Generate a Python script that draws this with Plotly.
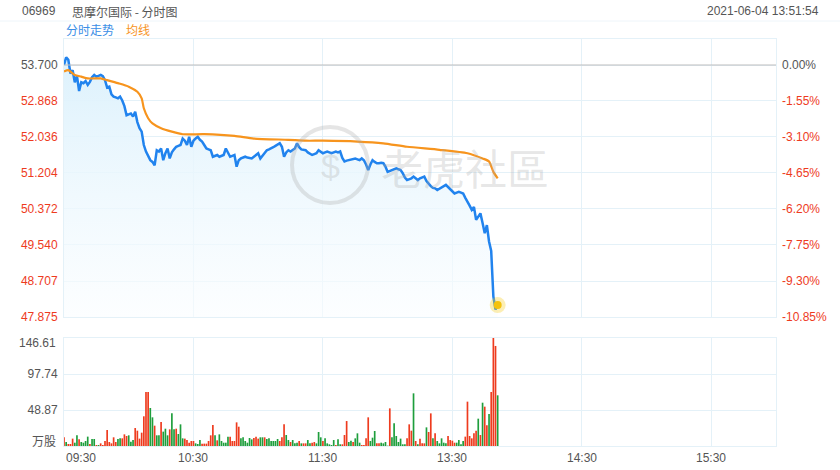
import plotly.graph_objects as go

# ---------------- data ----------------
price = [53.70, 53.88, 53.82, 53.50, 53.58, 53.30, 53.45, 53.10, 53.30, 53.28,
         53.33, 53.24, 53.31, 53.42, 53.47, 53.43, 53.45, 53.47, 53.44, 53.35,
         53.18, 53.20, 53.02, 52.97, 52.95, 52.93, 52.97, 52.88, 52.75, 52.54,
         52.56, 52.58, 52.51, 52.62, 52.38, 52.24, 52.16, 51.85, 51.70, 51.58,
         51.50, 51.46, 51.38, 51.73, 51.70, 51.77, 51.50, 51.66, 51.77, 51.54,
         51.68, 51.75, 51.81, 51.83, 51.85, 52.00, 51.95, 51.85, 52.04, 51.81,
         51.95, 52.00, 52.04, 51.97, 51.93, 51.85, 51.77, 51.75, 51.73, 51.58,
         51.60, 51.62, 51.58, 51.60, 51.62, 51.77, 51.66, 51.58, 51.60, 51.62,
         51.35, 51.50, 51.54, 51.56, 51.58, 51.56, 51.55, 51.54, 51.58, 51.62,
         51.66, 51.54, 51.60, 51.68, 51.73, 51.75, 51.77, 51.80, 51.83, 51.86,
         51.89, 51.81, 51.58, 51.68, 51.73, 51.70, 51.73, 51.77, 51.89, 51.80,
         51.75, 51.74, 51.73, 51.68, 51.65, 51.62, 51.64, 51.66, 51.73, 51.70,
         51.66, 51.68, 51.70, 51.68, 51.66, 51.68, 51.70, 51.68, 51.70, 51.55,
         51.47, 51.49, 51.50, 51.52, 51.53, 51.54, 51.52, 51.50, 51.54, 51.50,
         51.40, 51.27, 51.40, 51.50, 51.46, 51.43, 51.43, 51.44, 51.43, 51.35,
         51.23, 51.25, 51.27, 51.29, 51.31, 51.29, 51.27, 51.20, 51.10, 51.04,
         51.06, 51.08, 51.12, 51.08, 51.04, 51.08, 51.10, 51.12, 51.02, 50.95,
         50.90, 50.86, 50.85, 50.81, 50.84, 50.88, 50.90, 50.93, 50.88, 50.83,
         50.79, 50.73, 50.75, 50.77, 50.75, 50.73, 50.63, 50.55, 50.45, 50.35,
         50.42, 50.12, 50.20, 50.27, 50.05, 49.81, 50.00, 49.62, 49.40, 48.35,
         48.05, 48.15]

avg_minutes = [0, 2, 5, 8, 11, 17, 20, 25, 30, 34, 36, 37, 39, 41, 45, 50, 55, 65,
               79, 88, 104, 112, 120, 136, 148, 159, 174, 187, 194, 197, 199, 201]
avg_price = [53.55, 53.58, 53.47, 53.43, 53.39, 53.39, 53.35, 53.28, 53.20, 53.08,
             52.93, 52.70, 52.47, 52.35, 52.24, 52.16, 52.10, 52.10, 52.06, 52.00,
             51.97, 51.95, 51.95, 51.93, 51.89, 51.81, 51.74, 51.66, 51.54, 51.47,
             51.23, 51.08]

volume = [11.8, 5.4, 2.7, 2.7, 10.0, 4.5, 14.5, 9.0, 5.4, 4.5,
          6.8, 12.7, 2.7, 9.5, 9.5, 1.4, 1.4, 3.6, 1.4, 6.8,
          21.7, 5.4, 3.6, 11.8, 5.4, 9.5, 10.4, 10.4, 15.8, 13.6,
          14.5, 5.9, 8.1, 24.4, 20.8, 10.0, 18.1, 40.3, 73.3, 73.3,
          51.6, 38.9, 27.6, 14.5, 14.5, 32.6, 19.5, 23.5, 14.5, 22.6,
          44.3, 22.6, 23.5, 16.3, 29.4, 10.4, 10.0, 8.1, 4.5, 6.8,
          6.8, 3.6, 2.7, 8.1, 3.2, 3.2, 3.2, 6.8, 14.5, 28.5,
          14.5, 7.7, 15.8, 6.8, 4.5, 4.5, 12.7, 12.7, 6.8, 6.8,
          32.1, 26.2, 10.4, 11.8, 6.8, 4.5, 10.9, 9.0, 10.9, 12.7,
          10.0, 11.8, 11.8, 11.8, 9.5, 10.4, 6.8, 6.8, 6.8, 9.5,
          6.8, 11.8, 29.4, 14.9, 8.1, 5.4, 8.1, 3.6, 4.5, 6.8,
          3.6, 3.6, 3.6, 8.1, 3.6, 4.5, 5.4, 3.6, 19.0, 11.8,
          6.8, 10.4, 3.6, 2.3, 1.4, 8.1, 1.4, 9.0, 2.3, 2.3,
          14.9, 33.9, 5.4, 7.2, 5.4, 10.4, 17.2, 4.5, 1.4, 1.4,
          10.4, 38.9, 6.8, 11.3, 20.4, 3.6, 3.6, 4.5, 3.6, 5.4,
          0.5, 51.1, 11.8, 30.8, 13.6, 5.4, 10.0, 2.3, 2.3, 10.4,
          29.4, 20.8, 71.5, 6.8, 2.3, 10.0, 3.6, 3.6, 25.3, 19.0,
          44.3, 10.4, 17.2, 6.8, 3.6, 10.4, 4.5, 3.6, 13.6, 8.1,
          7.2, 4.5, 4.5, 8.1, 2.3, 6.8, 12.7, 60.2, 13.6, 10.4,
          17.2, 20.8, 37.1, 14.9, 58.8, 53.4, 28.1, 43.4, 73.3, 146.61,
          135.8, 68.8]

vol_dir = ["r", "g", "r", "r", "r", "g", "g", "r", "g", "g",
           "g", "g", "r", "g", "g", "r", "g", "r", "r", "r",
           "r", "r", "r", "r", "r", "g", "g", "r", "r", "r",
           "g", "g", "g", "r", "r", "r", "r", "r", "r", "r",
           "g", "g", "r", "g", "g", "r", "g", "g", "g", "r",
           "g", "g", "r", "g", "g", "g", "r", "r", "r", "r",
           "r", "g", "g", "g", "r", "r", "r", "r", "r", "r",
           "g", "r", "g", "g", "g", "g", "g", "r", "r", "r",
           "r", "r", "g", "g", "g", "g", "g", "g", "r", "r",
           "r", "g", "g", "r", "g", "g", "g", "g", "g", "g",
           "r", "r", "r", "g", "g", "r", "g", "g", "g", "r",
           "g", "r", "r", "g", "g", "r", "r", "g", "g", "g",
           "r", "g", "g", "g", "g", "g", "r", "g", "g", "r",
           "r", "r", "g", "g", "r", "g", "g", "g", "r", "r",
           "r", "r", "g", "g", "g", "r", "r", "g", "g", "g",
           "g", "r", "g", "g", "g", "g", "g", "g", "g", "r",
           "r", "r", "g", "r", "g", "r", "r", "r", "g", "r",
           "r", "g", "r", "g", "g", "g", "g", "g", "r", "r",
           "r", "r", "g", "g", "g", "g", "r", "r", "r", "r",
           "r", "r", "g", "r", "g", "r", "r", "g", "r", "r",
           "r", "g"]

price_ticks = [53.700, 52.868, 52.036, 51.204, 50.372, 49.540, 48.707, 47.875]
pct_ticks = ["0.00%", "-1.55%", "-3.10%", "-4.65%", "-6.20%", "-7.75%", "-9.30%", "-10.85%"]
vol_ticks = [48.87, 97.74, 146.61]
time_ticks = [0, 60, 120, 180, 240, 300]
time_labels = ["09:30", "10:30", "11:30", "13:30", "14:30", "15:30"]

prev_close = 53.700
price_top = 54.301
code = "06969"
title = "思摩尔国际 - 分时图"
stamp = "2021-06-04 13:51:54"

# ---------------- styles ----------------
W, H = 840, 470
PL, PR, PT, PB = 64, 776, 39, 446      # plot area edges in page pixels
L, R, T, B = PL, W - PR, PT, H - PB
PH = PB - PT
BLUE = "#2183ee"
ORANGE = "#f7941d"
RED = "#ee3b1e"
GREEN = "#1e9e3c"
GRID = "#e4f1f8"
GRAY = "#555555"
FONT = "Liberation Sans, Arial, sans-serif"
CJK = "Noto Sans CJK SC, Liberation Sans, sans-serif"


def py(y):
    return (PB - y) / PH


def px(x):
    return (x - PL) / (PR - PL)


minutes = list(range(len(price)))

fig = go.Figure()

# baseline for fill
fig.add_trace(go.Scatter(x=minutes, y=[price_ticks[-1]] * len(minutes), mode="lines",
                         line=dict(width=0, color="rgba(0,0,0,0)"), hoverinfo="skip",
                         showlegend=False, xaxis="x", yaxis="y"))
fig.add_trace(go.Scatter(x=minutes, y=price, mode="lines", line=dict(color=BLUE, width=2.5),
                         fill="tonexty",
                         fillgradient=dict(type="vertical",
                                           colorscale=[[0, "rgba(250,253,255,0.6)"],
                                                       [1, "rgba(220,241,252,1)"]],
                                           start=price_ticks[-1], stop=53.9),
                         showlegend=False, xaxis="x", yaxis="y"))
fig.add_trace(go.Scatter(x=avg_minutes, y=avg_price, mode="lines",
                         line=dict(color=ORANGE, width=2.2, shape="spline", smoothing=0.6),
                         showlegend=False, xaxis="x", yaxis="y"))
# end marker
fig.add_trace(go.Scatter(x=[minutes[-1]], y=[price[-1]], mode="markers",
                         marker=dict(size=16, color="rgba(246,205,40,0.35)"),
                         showlegend=False, xaxis="x", yaxis="y"))
fig.add_trace(go.Scatter(x=[minutes[-1]], y=[price[-1]], mode="markers",
                         marker=dict(size=8, color="#f4c20d"),
                         showlegend=False, xaxis="x", yaxis="y"))
# dummy for right axis
fig.add_trace(go.Scatter(x=[minutes[0]], y=[prev_close], mode="markers",
                         marker=dict(size=1, color="rgba(0,0,0,0)"), hoverinfo="skip",
                         showlegend=False, xaxis="x", yaxis="y3"))

colors = [RED if d == "r" else GREEN for d in vol_dir]
fig.add_trace(go.Bar(x=minutes, y=volume, marker=dict(color=colors, line=dict(width=0)),
                     showlegend=False, xaxis="x2", yaxis="y2"))

price_text = []
for i, t in enumerate(price_ticks):
    c = GRAY if i == 0 else RED
    price_text.append(f'<span style="color:{c}">{t:.3f}</span>')
pct_text = []
for i, t in enumerate(pct_ticks):
    c = GRAY if i == 0 else RED
    pct_text.append(f'<span style="color:{c}">{t}</span>')

xcommon = dict(range=[0, 330], tickvals=time_ticks, showticklabels=False, showgrid=True,
               gridcolor=GRID, gridwidth=1, zeroline=False, showline=True, linecolor=GRID,
               mirror=True, ticks="", fixedrange=True, automargin=False)

fig.update_layout(
    width=W, height=H, margin=dict(l=L, r=R, t=T, b=B, autoexpand=False),
    paper_bgcolor="white", plot_bgcolor="white",
    font=dict(family=FONT, size=12, color=GRAY),
    bargap=0.22, hovermode=False,
    xaxis=dict(**xcommon, anchor="y", domain=[0, 1]),
    xaxis2=dict(**xcommon, anchor="y2", domain=[0, 1]),
    yaxis=dict(domain=[py(317), 1], range=[price_ticks[-1], price_top], tickvals=price_ticks,
               ticktext=price_text, showgrid=True, gridcolor=GRID, zeroline=False,
               showline=True, linecolor=GRID, mirror=True, ticks="", automargin=False,
               ticklabelstandoff=3, fixedrange=True,
               tickfont=dict(size=12, family=FONT), anchor="x"),
    yaxis3=dict(overlaying="y", side="right", range=[price_ticks[-1], price_top],
                tickvals=price_ticks, ticktext=pct_text, showgrid=False, zeroline=False,
                ticks="", automargin=False, ticklabelstandoff=5, fixedrange=True,
                tickfont=dict(size=12, family=FONT), anchor="x"),
    yaxis2=dict(domain=[0, py(338)], range=[0, vol_ticks[-1]], tickvals=vol_ticks,
                ticktext=["48.87", "97.74", ""], showgrid=True, gridcolor=GRID,
                zeroline=False, showline=True, linecolor=GRID, mirror=True, ticks="",
                automargin=False, ticklabelstandoff=3, fixedrange=True,
                tickfont=dict(size=12, family=FONT, color=GRAY), anchor="x2"),
)

shapes = [
    dict(type="line", xref="x", yref="y", x0=0, x1=330, y0=prev_close, y1=prev_close,
         line=dict(color="#bdbdbd", width=1)),
    dict(type="line", xref="paper", yref="paper", x0=px(0), x1=px(840), y0=py(21), y1=py(21),
         line=dict(color="#eef5fa", width=1)),
    dict(type="circle", xref="paper", yref="paper", x0=px(292), x1=px(368), y0=py(203),
         y1=py(127), line=dict(color="rgba(170,170,170,0.3)", width=4)),
]
fig.update_layout(shapes=shapes)

ann = []
for t, lab in zip(time_ticks, time_labels):
    ann.append(dict(x=t, xref="x2", y=py(458), yref="paper", text=lab, showarrow=False,
                    xanchor="left" if t == 0 else "center", yanchor="middle",
                    font=dict(size=12, color=GRAY, family=FONT)))
ann += [
    dict(x=px(58), y=py(343), xref="paper", yref="paper", text=f"{vol_ticks[-1]:.2f}",
         showarrow=False, xanchor="right", yanchor="middle",
         font=dict(size=12, color=GRAY, family=FONT)),
    dict(x=px(58), y=py(440), xref="paper", yref="paper", text="万股", showarrow=False,
         xanchor="right", yanchor="middle", font=dict(size=12, color=GRAY, family=CJK)),
    dict(x=px(20), y=py(11), xref="paper", yref="paper", text=code, showarrow=False,
         xanchor="left", yanchor="middle", font=dict(size=12, color=GRAY, family=FONT)),
    dict(x=px(70), y=py(11), xref="paper", yref="paper", text=title, showarrow=False,
         xanchor="left", yanchor="middle", font=dict(size=12, color=GRAY, family=CJK)),
    dict(x=px(821), y=py(11), xref="paper", yref="paper", text=stamp, showarrow=False,
         xanchor="right", yanchor="middle", font=dict(size=12, color=GRAY, family=FONT)),
    dict(x=px(64), y=py(30), xref="paper", yref="paper", text="分时走势", showarrow=False,
         xanchor="left", yanchor="middle", font=dict(size=12, color="#3a8ee6", family=CJK)),
    dict(x=px(124), y=py(30), xref="paper", yref="paper", text="均线", showarrow=False,
         xanchor="left", yanchor="middle", font=dict(size=12, color=ORANGE, family=CJK)),
    dict(x=px(465), y=py(166), xref="paper", yref="paper", text="老虎社區", showarrow=False,
         xanchor="center", yanchor="middle",
         font=dict(size=42, color="rgba(170,170,170,0.3)", family=CJK)),
    dict(x=px(330), y=py(166), xref="paper", yref="paper", text="$", showarrow=False,
         xanchor="center", yanchor="middle",
         font=dict(size=34, color="rgba(170,170,170,0.3)", family=FONT)),
]
fig.update_layout(annotations=ann)

fig.write_html("out.html", config={"displayModeBar": False, "staticPlot": True},
               post_script="document.body.style.margin='0';document.body.style.overflow='hidden';")
